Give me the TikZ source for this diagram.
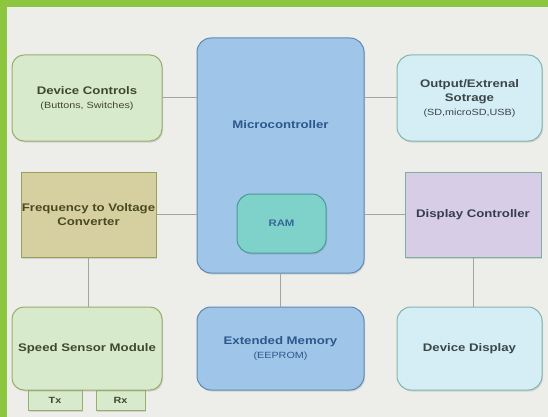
\documentclass[tikz,border=0pt]{standalone}
\usepackage{fontspec}
\setmainfont[FakeStretch=1.2]{Liberation Sans}
\usetikzlibrary{shadows}
\definecolor{bgc}{HTML}{EDEDE9}
\definecolor{band}{HTML}{8CC63F}
\definecolor{wirec}{HTML}{A2A49E}
\begin{document}
\begin{tikzpicture}[x=1pt,y=-1pt,every node/.style={align=center,inner sep=0pt,font=\fontsize{11}{13}\selectfont\bfseries},box/.style={draw,line width=1pt,drop shadow={shadow xshift=1pt,shadow yshift=-1.5pt,opacity=0.25}},grn/.style={box,rounded corners=12pt,fill={rgb,255:red,216;green,234;blue,204},draw={rgb,255:red,152;green,174;blue,110},text={rgb,255:red,64;green,72;blue,44}},blu/.style={box,rounded corners=14pt,fill={rgb,255:red,159;green,197;blue,232},draw={rgb,255:red,92;green,138;blue,180},text={rgb,255:red,46;green,88;blue,140}},cyn/.style={box,rounded corners=14pt,fill={rgb,255:red,213;green,238;blue,245},draw={rgb,255:red,128;green,182;blue,174},text={rgb,255:red,58;green,70;blue,72}},khk/.style={box,fill={rgb,255:red,214;green,208;blue,160},draw={rgb,255:red,152;green,160;blue,94},text={rgb,255:red,74;green,74;blue,34}},lav/.style={box,fill={rgb,255:red,215;green,205;blue,231},draw={rgb,255:red,124;green,176;blue,160},text={rgb,255:red,58;green,58;blue,86}},ram/.style={box,rounded corners=14pt,fill={rgb,255:red,126;green,210;blue,202},draw={rgb,255:red,74;green,152;blue,154},text={rgb,255:red,52;green,104;blue,156}},port/.style={grn,rounded corners=0pt,font=\fontsize{9}{11}\selectfont\bfseries,minimum height=20pt},wire/.style={draw=wirec,line width=1pt}]
\fill[bgc] (0,0) rectangle (548,417);
\fill[band] (0,0) rectangle (548,7);
\fill[band] (0,0) rectangle (7,417);
\useasboundingbox (0,0) rectangle (548,417);

% ports under the speed sensor
\node[port,minimum width=54pt] (tx) at (55,400) {Tx};
\node[port,minimum width=49pt] (rx) at (120.5,400) {Rx};

\node[blu,minimum width=167pt,minimum height=235pt] (mcu) at (280.5,155.5) {};
\node[text={rgb,255:red,46;green,88;blue,140}] (mcut) at (280.5,125) {Microcontroller};
\node[ram,minimum width=89pt,minimum height=59pt,font=\fontsize{9.5}{11}\selectfont\bfseries] (ram) at (281.5,223.5) {RAM};

\node[grn,minimum width=150pt,minimum height=86pt] (ctrl) at (87,98) {Device Controls\\[1pt]{\fontsize{9}{11}\selectfont\mdseries (Buttons, Switches)}};
\node[cyn,minimum width=145pt,minimum height=86pt] (out) at (469.5,98) {Output/Extrenal\\[1pt]Sotrage\\[1pt]{\fontsize{9}{11}\selectfont\mdseries (SD,microSD,USB)}};
\node[khk,minimum width=135pt,minimum height=85pt] (f2v) at (88.5,214.5) {Frequency to Voltage\\[1pt]Converter};
\node[lav,minimum width=136pt,minimum height=85pt] (disp) at (473,214.5) {Display Controller};
\node[grn,minimum width=150pt,minimum height=83pt] (speed) at (87,348.5) {Speed Sensor Module};
\node[blu,minimum width=167pt,minimum height=83pt] (eeprom) at (280.5,348.5) {Extended Memory\\[1pt]{\fontsize{9}{11}\selectfont\mdseries (EEPROM)}};
\node[cyn,minimum width=145pt,minimum height=83pt] (ddisp) at (469.5,348.5) {Device Display};

\draw[wire] (ctrl.east) -- (ctrl.east -| mcu.west);
\draw[wire] (out.west) -- (out.west -| mcu.east);
\draw[wire] (f2v.east) -- (f2v.east -| mcu.west);
\draw[wire] (disp.west) -- (disp.west -| mcu.east);
\draw[wire] (f2v.south) -- (f2v.south |- speed.north);
\draw[wire] (mcu.south) -- (eeprom.north);
\draw[wire] (disp.south) -- (disp.south |- ddisp.north);
\end{tikzpicture}
\end{document}
